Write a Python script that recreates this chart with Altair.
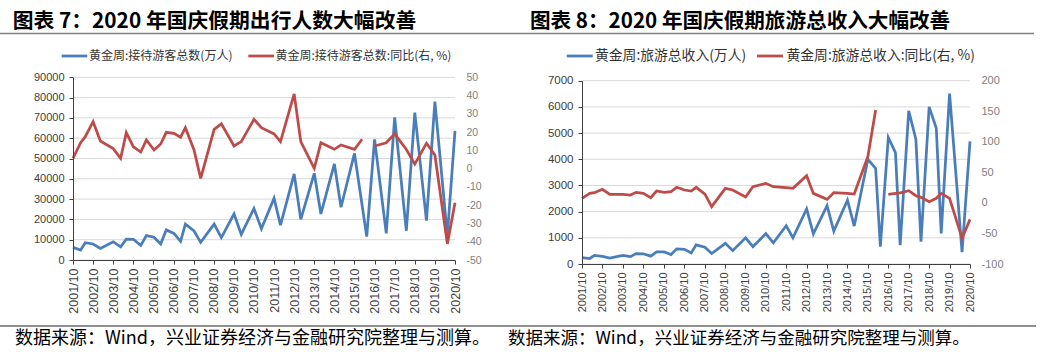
import altair as alt
import pandas as pd

# ---------------- data: 图表7 (visitors) ----------------
L_BLUE_T = [2001.75, 2002.13, 2002.36, 2002.75, 2003.11, 2003.75, 2004.12, 2004.40, 2004.75,
            2005.12, 2005.40, 2005.78, 2006.11, 2006.39, 2006.77, 2007.10, 2007.34, 2007.77,
            2008.10, 2008.77, 2009.13, 2009.76, 2010.12, 2010.75, 2011.12, 2011.75, 2012.07,
            2012.75, 2013.08, 2013.75, 2014.08, 2014.75, 2015.08, 2015.75, 2016.36, 2016.75,
            2017.33, 2017.75, 2018.33, 2018.75, 2019.33, 2019.75, 2020.37, 2020.75]
L_BLUE_V = [6200, 4900, 8500, 7900, 5700, 9000, 6500, 10300, 10200,
            7200, 12000, 11200, 7900, 14800, 13100, 9200, 17700, 14300,
            8700, 17700, 11000, 22700, 12600, 25400, 15400, 30400, 17200,
            42400, 20000, 42700, 22700, 47300, 26000, 52500, 11500, 59400,
            13100, 70300, 14400, 72600, 19400, 78000, 12000, 63600]
L_RED_T = [2001.75, 2002.13, 2002.36, 2002.75, 2003.11, 2003.75, 2004.12, 2004.40, 2004.75,
           2005.12, 2005.40, 2005.78, 2006.11, 2006.39, 2006.77, 2007.10, 2007.34, 2007.77,
           2008.10, 2008.77, 2009.13, 2009.76, 2010.12, 2010.75, 2011.12, 2011.75, 2012.07,
           2012.75, 2013.08, 2013.75, 2014.08, 2014.75, 2015.08, 2015.75, 2016.13,
           2016.75, 2017.33, 2017.75, 2018.33, 2018.75, 2019.33, 2019.75, 2020.37, 2020.75]
L_RED_V = [5.7, 14.2, 17.5, 25.7, 15.1, 11.0, 5.7, 19.7, 12.0,
           9.1, 15.7, 10.2, 13.5, 19.9, 19.3, 17.2, 22.4, 10.2,
           -5.3, 21.5, 24.5, 12.4, 14.8, 27.0, 22.4, 19.0, 14.8,
           40.9, 14.8, 0.2, 14.2, 10.6, 13.0, 10.6, 16.1,
           12.4, 14.2, 19.0, 10.5, 2.5, 13.9, 7.5, -41.2, -18.6]
L_RED_SEG = [1] * 35 + [2] * 9

# ---------------- data: 图表8 (revenue) ----------------
R_BLUE_T = [2001.75, 2002.13, 2002.36, 2002.75, 2003.11, 2003.75, 2004.12, 2004.40, 2004.75,
            2005.12, 2005.40, 2005.78, 2006.11, 2006.39, 2006.77, 2007.10, 2007.34, 2007.77,
            2008.10, 2008.77, 2009.13, 2009.76, 2010.12, 2010.75, 2011.12, 2011.75, 2012.08,
            2012.75, 2013.08, 2013.75, 2014.08, 2014.75, 2015.08, 2015.75, 2016.13, 2016.36,
            2016.75, 2017.10, 2017.33, 2017.75, 2018.10, 2018.35, 2018.75, 2019.10, 2019.34,
            2019.75, 2020.36, 2020.75]
R_BLUE_V = [240, 210, 330, 290, 230, 330, 280, 400, 390,
            300, 460, 460, 360, 580, 560, 420, 730, 640,
            400, 790, 510, 1000, 660, 1160, 810, 1460, 1000,
            2100, 1150, 2230, 1260, 2440, 1450, 4000, 3650, 660,
            4830, 4250, 720, 5850, 4770, 850, 6000, 5180, 1170,
            6510, 450, 4680]
R_RED_T = [2001.75, 2002.13, 2002.36, 2002.75, 2003.11, 2003.75, 2004.12, 2004.40, 2004.75,
           2005.12, 2005.40, 2005.78, 2006.11, 2006.39, 2006.77, 2007.10, 2007.34, 2007.77,
           2008.10, 2008.77, 2009.13, 2009.76, 2010.12, 2010.75, 2011.12, 2011.75, 2012.08,
           2012.75, 2013.08, 2013.75, 2014.08, 2014.75, 2015.08, 2015.75, 2016.13,
           2016.75, 2017.10, 2017.33, 2017.75, 2018.10, 2018.35, 2018.75, 2019.10, 2019.34,
           2019.75, 2020.36, 2020.75]
R_RED_V = [7.5, 15.6, 16.7, 22.2, 14.0, 14.0, 12.9, 17.3, 15.6,
           8.5, 19.5, 17.3, 18.4, 25.5, 21.1, 19.5, 25.5, 14.5,
           -6.2, 23.8, 21.1, 9.6, 26.5, 32.0, 26.5, 25.0, 23.8,
           44.5, 15.6, 5.8, 16.7, 15.6, 14.5, 76.0, 152.0,
           14.0, 15.6, 16.5, 20.0, 11.8, 9.1, 2.0, 7.5, 15.6,
           7.5, -58.0, -27.0]
R_RED_SEG = [1] * 35 + [2] * 12

YEAR_TICKS = [2001.75 + i for i in range(20)]
L_LEFT_TICKS = list(range(0, 90001, 10000))
L_RIGHT_TICKS = list(range(-50, 51, 10))
R_LEFT_TICKS = list(range(0, 7001, 1000))
R_RIGHT_TICKS = list(range(-100, 201, 50))

TITLE_L = "图表 7：2020 年国庆假期出行人数大幅改善"
TITLE_R = "图表 8：2020 年国庆假期旅游总收入大幅改善"
LEG_L = ["黄金周:接待游客总数(万人)", "黄金周:接待游客总数:同比(右, %)"]
LEG_R = ["黄金周:旅游总收入(万人)", "黄金周:旅游总收入:同比(右, %)"]
SOURCE = "数据来源：Wind，兴业证券经济与金融研究院整理与测算。"

# ---------------- styling / layout ----------------
W, H = 1044, 353
BLUE = "#4a7ebb"
RED = "#be4b48"
CJK = "Noto Sans CJK SC"
NUM = "Liberation Sans"
ONE = pd.DataFrame({"k": [0]})

P1 = dict(x0=73, x1=455, y0=77.3, y1=260, xfs=12.5, lfs=11, rfs=10.5)
P2 = dict(x0=582, x1=970, y0=80.7, y1=264, xfs=11, lfs=11.5, rfs=11)


def xscale(p):
    return alt.Scale(domain=[2001.75, 2020.75], range=[p["x0"], p["x1"]], nice=False, zero=False)


def yscale(dom, p):
    return alt.Scale(domain=dom, range=[p["y1"], p["y0"]], nice=False, zero=False)


def hrule(x1, x2, y, color, width, opacity=1.0):
    return alt.Chart(ONE).mark_rule(color=color, strokeWidth=width, opacity=opacity).encode(
        x=alt.value(x1), x2=alt.value(x2), y=alt.value(y))


def label(text, x, y, size, color="#000000", weight="normal"):
    return alt.Chart(ONE).mark_text(
        text=text, align="left", baseline="middle", font=CJK, fontSize=size,
        fontWeight=weight, color=color).encode(x=alt.value(x), y=alt.value(y))


def panel(p, bt, bv, rt, rv, rseg, ldom, lticks, rdom, rticks):
    layers = []
    grid_df = pd.DataFrame({"v": lticks})
    layers.append(alt.Chart(grid_df).mark_rule(color="#d9d9d9", strokeWidth=1).encode(
        y=alt.Y("v:Q", scale=yscale(ldom, p), axis=None),
        x=alt.value(p["x0"]), x2=alt.value(p["x1"])))
    bdf = pd.DataFrame({"t": bt, "v": bv})
    xaxis = alt.Axis(values=YEAR_TICKS, labelExpr="floor(datum.value) + '/10'",
                     labelAngle=-90, orient="bottom", offset=p["y1"] - H, grid=False,
                     domainColor="#404040", tickColor="#404040", tickSize=4,
                     labelPadding=4, labelFont=NUM, labelFontSize=p["xfs"],
                     labelColor="#404040", title=None, labelFlush=False,
                     labelOverlap=False, labelBound=False, zindex=1)
    lyaxis = alt.Axis(values=lticks, labelExpr="'' + datum.value", orient="left",
                      offset=-p["x0"], grid=False,
                      domainColor="#404040", tickColor="#404040", tickSize=4,
                      labelPadding=5, labelFont=NUM, labelFontSize=p["lfs"],
                      labelColor="#404040", title=None, labelFlush=False,
                      labelOverlap=False, labelBound=False, zindex=1)
    layers.append(alt.Chart(bdf).mark_line(color=BLUE, strokeWidth=2.75).encode(
        x=alt.X("t:Q", scale=xscale(p), axis=xaxis),
        y=alt.Y("v:Q", scale=yscale(ldom, p), axis=lyaxis)))
    rdf = pd.DataFrame({"t": rt, "v": rv, "seg": rseg})
    ryaxis = alt.Axis(values=rticks, labelExpr="'' + datum.value", orient="right",
                      offset=p["x1"] - W, grid=False,
                      domain=False, ticks=False, labelPadding=11, labelFont=NUM,
                      labelFontSize=p["rfs"], labelColor="#808080", title=None,
                      labelFlush=False, labelOverlap=False, labelBound=False)
    layers.append(alt.Chart(rdf).mark_line(color=RED, strokeWidth=2.75).encode(
        x=alt.X("t:Q", scale=xscale(p), axis=None),
        y=alt.Y("v:Q", scale=yscale(rdom, p), axis=ryaxis),
        detail="seg:N"))
    return layers


layers = []
layers += panel(P1, L_BLUE_T, L_BLUE_V, L_RED_T, L_RED_V, L_RED_SEG,
                [0, 90000], L_LEFT_TICKS, [-50, 50], L_RIGHT_TICKS)
layers += panel(P2, R_BLUE_T, R_BLUE_V, R_RED_T, R_RED_V, R_RED_SEG,
                [0, 7000], R_LEFT_TICKS, [-100, 200], R_RIGHT_TICKS)

# titles and rules
layers.append(label(TITLE_L, 12.7, 22, 20.8, "#000000", "bold"))
layers.append(label(TITLE_R, 530, 22, 20.6, "#000000", "bold"))
layers.append(hrule(0, 1034, 33.5, "#808080", 1.5))
# legends
LEG_Y = 56
layers.append(hrule(61.7, 87.3, LEG_Y, BLUE, 2.75))
layers.append(label(LEG_L[0], 89, LEG_Y, 12, "#333333"))
layers.append(hrule(248.3, 274, LEG_Y, RED, 2.75))
layers.append(label(LEG_L[1], 275.5, LEG_Y, 12, "#333333"))
layers.append(hrule(566.7, 592.7, LEG_Y, BLUE, 2.75))
layers.append(label(LEG_R[0], 595, LEG_Y, 13.8, "#333333"))
layers.append(hrule(757, 783, LEG_Y, RED, 2.75))
layers.append(label(LEG_R[1], 786.5, LEG_Y, 13.8, "#333333"))
# source notes
layers.append(hrule(0, 1036, 326, "#222222", 1.2))
layers.append(label(SOURCE, 15, 339, 18.0, "#000000"))
layers.append(label(SOURCE, 508, 339, 17.5, "#000000"))

chart = alt.layer(*layers).resolve_scale(x="independent", y="independent").properties(
    width=W, height=H, autosize=alt.AutoSizeParams(type="none"), padding=0,
    background="#ffffff").configure_view(stroke=None)

chart.save("out.html", embed_options={"renderer": "svg", "actions": False})
